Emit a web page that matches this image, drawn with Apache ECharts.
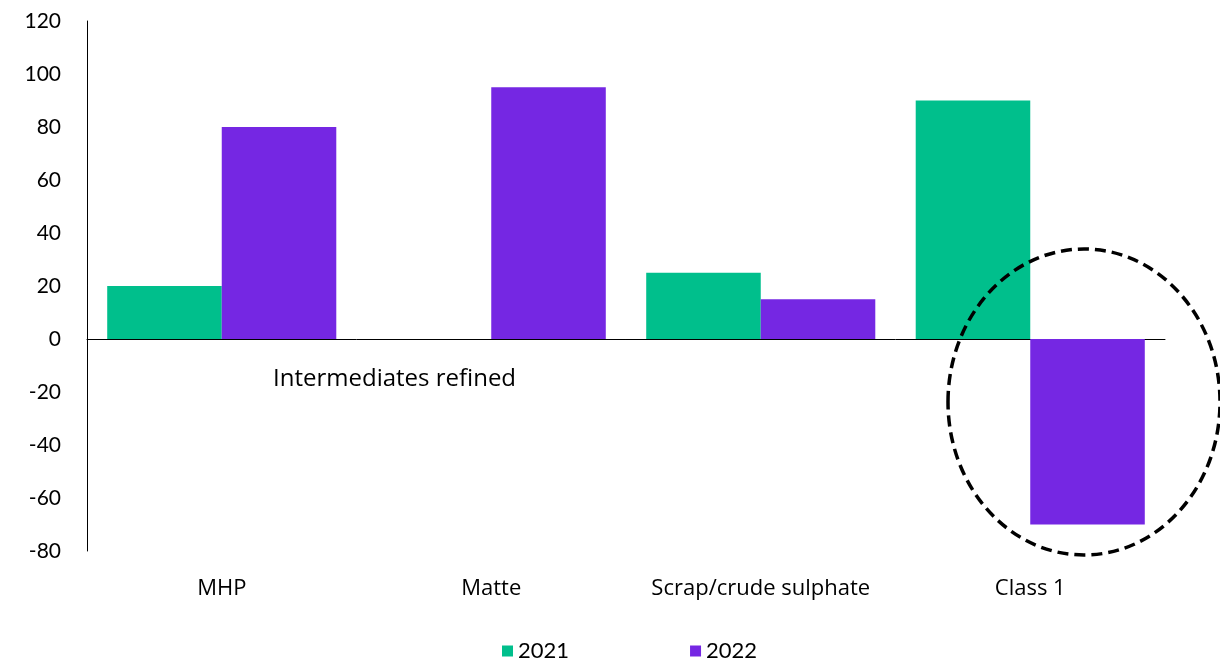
<!DOCTYPE html>
<html><head><meta charset="utf-8">
<script src="https://cdn.jsdelivr.net/npm/echarts@6/dist/echarts.min.js"></script>
<style>html,body{margin:0;padding:0;background:#fff}#c{width:1220px;height:661px}</style>
</head><body><div id="c"></div>
<script>
const categories = ['MHP', 'Matte', 'Scrap/crude sulphate', 'Class 1'];
const values2021 = [20, 0, 25, 90];
const values2022 = [80, 95, 15, -70];
const seriesNames = ['2021', '2022'];
const annotationText = 'Intermediates refined';

const font = 'Lato, "Open Sans", sans-serif';
const wideFont = '"Open Sans", Lato, sans-serif';
const chart = echarts.init(document.getElementById('c'));
chart.setOption({
  animation: false,
  grid: { left: 87, right: 55, top: 21, bottom: 110 },
  legend: {
    data: seriesNames, top: 635, left: 497, itemWidth: 11, itemHeight: 11, itemGap: 121,
    icon: 'rect', textStyle: { fontFamily: font, fontSize: 22, color: '#000' }
  },
  xAxis: [
    { type: 'category', data: categories, axisLine: { show: false, onZero: false },
      axisTick: { show: false },
      axisLabel: { interval: 0, fontFamily: wideFont, fontSize: 22, color: '#000', margin: 27 } },
    { type: 'category', data: categories, position: 'bottom',
      axisLine: { show: true, onZero: true, lineStyle: { color: '#000', width: 1 } },
      axisTick: { show: false }, axisLabel: { show: false } }
  ],
  yAxis: {
    type: 'value', min: -80, max: 120, interval: 20,
    axisLine: { show: true, lineStyle: { color: '#000', width: 1 } },
    axisTick: { show: false }, splitLine: { show: false },
    axisLabel: { fontFamily: font, fontSize: 21, color: '#000', margin: 26 }
  },
  series: [
    { name: seriesNames[0], type: 'bar', data: values2021, xAxisIndex: 0,
      barGap: '0%', barCategoryGap: '15%', itemStyle: { color: '#00BF8C' } },
    { name: seriesNames[1], type: 'bar', data: values2022, xAxisIndex: 0,
      barGap: '0%', barCategoryGap: '15%', itemStyle: { color: '#7527E3' } }
  ],
  graphic: [
    { type: 'text', left: 273, top: 367, z: 100,
      style: { text: annotationText, fontFamily: wideFont, fontSize: 24, fill: '#000' } },
    { type: 'ellipse', z: 100, shape: { cx: 1084, cy: 402, rx: 136, ry: 153 },
      style: { fill: 'none', stroke: '#000', lineWidth: 3.5, lineDash: [11, 6] } }
  ]
});
</script></body></html>
